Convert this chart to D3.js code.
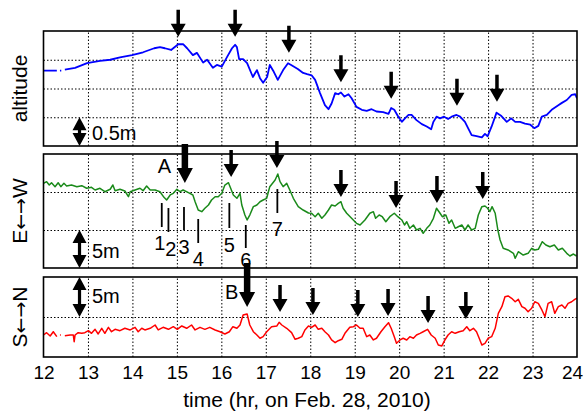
<!DOCTYPE html>
<html>
<head>
<meta charset="UTF-8">
<style>
body { margin: 0; background: white; }
text { font-family: "Liberation Sans", Arial, sans-serif; fill: black; }
.grid line { stroke: black; stroke-width: 1; stroke-dasharray: 1.5,2; }
.grid path { display: none; }
</style>
</head>
<body>
<script src="https://d3js.org/d3.v7.min.js"></script>
<script>

// ---- data (time in hours, values in metres) ----
var xTicks = [12, 13, 14, 15, 16, 17, 18, 19, 20, 21, 22, 23, 24]

var altitude = [
  [12.00,1.31],[12.30,1.31],[12.33,null],[12.37,1.31],[12.40,1.31],[12.44,null],
  [12.48,1.33],[12.71,1.36],[12.98,1.44],[13.27,1.48],[13.50,1.50],[13.72,1.54],
  [13.99,1.58],[14.24,1.63],[14.49,1.70],[14.62,1.72],[14.73,1.70],[14.87,1.67],
  [15.03,1.77],[15.14,1.77],[15.23,1.70],[15.36,1.58],[15.45,1.62],[15.59,1.45],
  [15.68,1.50],[15.81,1.36],[15.90,1.41],[16.01,1.38],[16.13,1.55],[16.24,1.70],
  [16.31,1.76],[16.35,1.72],[16.40,1.51],[16.49,1.51],[16.58,1.44],[16.71,1.20],
  [16.80,1.32],[16.87,1.18],[16.94,1.10],[17.03,1.20],[17.09,1.41],[17.18,1.29],
  [17.27,1.15],[17.39,1.32],[17.50,1.44],[17.57,1.41],[17.72,1.34],[17.84,1.27],
  [17.93,1.25],[18.03,1.23],[18.11,1.15],[18.22,0.92],[18.33,0.71],[18.41,0.64],
  [18.48,0.74],[18.56,0.92],[18.63,0.90],[18.69,0.93],[18.77,0.86],[18.86,0.90],
  [18.93,0.83],[19.04,0.68],[19.16,0.63],[19.27,0.61],[19.38,0.64],[19.49,0.60],
  [19.64,0.59],[19.76,0.56],[19.82,0.66],[19.89,0.63],[19.98,0.51],[20.06,0.42],
  [20.13,0.48],[20.21,0.54],[20.28,0.54],[20.39,0.45],[20.51,0.38],[20.62,0.34],
  [20.72,0.29],[20.77,0.42],[20.84,0.51],[20.92,0.48],[21.01,0.51],[21.10,0.47],
  [21.18,0.51],[21.29,0.54],[21.37,0.51],[21.48,0.42],[21.55,0.31],[21.63,0.19],
  [21.74,0.17],[21.86,0.15],[21.93,0.21],[21.99,0.17],[22.08,0.34],[22.19,0.58],
  [22.30,0.52],[22.42,0.42],[22.52,0.48],[22.61,0.42],[22.72,0.42],[22.83,0.39],
  [22.95,0.37],[23.04,0.31],[23.13,0.35],[23.21,0.51],[23.32,0.54],[23.43,0.63],
  [23.58,0.71],[23.66,0.75],[23.77,0.80],[23.88,0.89],[23.96,0.90],[24.00,0.83]
]

var eastWest = [
  [12.00,11.14],[12.07,11.36],[12.13,10.92],[12.18,11.22],[12.26,10.70],[12.33,11.22],
  [12.39,10.70],[12.46,11.14],[12.52,10.79],[12.63,10.92],[12.75,10.70],[12.86,10.83],
  [12.97,10.49],[13.08,10.62],[13.16,10.26],[13.27,10.49],[13.38,10.04],[13.50,10.36],
  [13.56,10.92],[13.61,10.17],[13.72,10.36],[13.83,10.13],[13.91,9.38],[13.95,10.04],
  [14.06,10.26],[14.17,10.49],[14.24,10.17],[14.32,10.79],[14.40,10.26],[14.51,10.26],
  [14.62,10.04],[14.71,9.30],[14.77,8.95],[14.85,9.61],[14.92,9.83],[15.00,10.36],
  [15.07,10.04],[15.14,10.26],[15.26,9.91],[15.36,9.61],[15.41,8.72],[15.48,7.63],
  [15.56,7.41],[15.63,7.86],[15.71,8.29],[15.78,8.95],[15.86,9.38],[15.93,9.38],
  [16.01,9.83],[16.08,10.92],[16.16,11.22],[16.21,10.49],[16.27,9.61],[16.35,9.17],
  [16.42,9.83],[16.46,8.29],[16.53,6.97],[16.58,6.32],[16.64,6.97],[16.72,8.07],
  [16.80,8.29],[16.87,8.72],[16.94,8.95],[17.02,9.17],[17.09,10.70],[17.21,11.58],
  [17.27,12.37],[17.32,11.36],[17.39,10.70],[17.47,11.14],[17.54,10.26],[17.62,9.17],
  [17.73,8.07],[17.84,7.63],[17.96,7.24],[18.03,7.20],[18.11,6.75],[18.18,7.20],
  [18.26,6.54],[18.33,6.97],[18.41,7.63],[18.48,8.29],[18.56,8.16],[18.63,8.51],
  [18.69,8.72],[18.74,7.86],[18.82,7.20],[18.93,6.54],[19.04,5.88],[19.12,5.66],
  [19.23,6.32],[19.34,7.20],[19.42,7.41],[19.47,6.54],[19.55,6.97],[19.62,6.75],
  [19.70,6.09],[19.79,6.75],[19.89,7.20],[19.97,6.75],[20.06,6.32],[20.12,5.66],
  [20.17,6.09],[20.24,5.22],[20.32,5.66],[20.39,5.00],[20.47,5.22],[20.54,4.57],
  [20.62,5.22],[20.69,5.66],[20.77,6.54],[20.84,7.86],[20.92,7.20],[20.97,6.75],
  [21.05,6.97],[21.12,5.88],[21.18,6.32],[21.26,5.22],[21.33,5.43],[21.41,5.66],
  [21.48,5.00],[21.55,5.66],[21.63,5.00],[21.71,5.22],[21.78,6.97],[21.86,8.07],
  [21.93,8.16],[21.99,7.86],[22.04,7.41],[22.09,8.07],[22.16,7.20],[22.22,5.00],
  [22.27,3.68],[22.34,2.59],[22.45,2.37],[22.57,1.93],[22.61,1.28],[22.68,2.14],
  [22.79,1.71],[22.90,1.93],[22.98,2.59],[23.05,2.37],[23.13,2.46],[23.22,3.46],
  [23.30,3.03],[23.39,2.80],[23.49,3.03],[23.58,2.37],[23.67,2.59],[23.77,1.93],
  [23.84,1.58],[23.92,1.84],[23.99,1.58]
]

var southNorth = [
  [12.00,2.75],[12.07,3.04],[12.15,2.63],[12.22,3.16],[12.30,2.54],[12.33,null],
  [12.37,2.75],[12.39,2.75],[12.43,null],
  [12.48,2.66],[12.60,2.75],[12.67,2.75],[12.69,1.91],[12.71,2.75],[12.78,3.04],
  [12.86,2.96],[12.93,3.04],[13.01,3.29],[13.08,2.96],[13.16,3.46],[13.23,2.88],
  [13.31,3.59],[13.38,2.96],[13.46,3.71],[13.53,3.16],[13.61,3.46],[13.72,3.29],
  [13.83,3.59],[13.95,3.38],[14.06,3.71],[14.13,3.16],[14.21,3.59],[14.28,3.38],
  [14.40,3.59],[14.51,4.00],[14.58,3.38],[14.69,3.71],[14.81,3.46],[14.92,3.79],
  [15.01,3.46],[15.11,3.88],[15.22,3.59],[15.33,4.00],[15.41,3.38],[15.52,3.71],
  [15.63,3.46],[15.74,3.71],[15.86,3.38],[15.97,3.16],[16.08,2.88],[16.18,3.16],
  [16.26,3.79],[16.35,3.59],[16.42,4.00],[16.49,5.25],[16.58,5.38],[16.64,4.00],
  [16.72,3.16],[16.80,2.75],[16.87,2.34],[16.94,2.54],[17.02,3.16],[17.13,3.79],
  [17.25,3.88],[17.30,4.34],[17.36,4.00],[17.47,3.59],[17.58,3.04],[17.66,2.21],
  [17.73,2.34],[17.81,2.54],[17.88,3.38],[17.96,3.88],[18.03,3.71],[18.11,4.00],
  [18.18,3.46],[18.26,3.59],[18.33,3.16],[18.41,2.75],[18.48,2.13],[18.56,1.79],
  [18.63,2.04],[18.71,2.21],[18.78,2.96],[18.89,3.71],[18.97,3.79],[19.04,4.00],
  [19.12,3.59],[19.19,3.59],[19.27,2.54],[19.34,2.75],[19.42,2.13],[19.49,2.34],
  [19.59,3.16],[19.68,3.79],[19.76,4.29],[19.82,3.59],[19.89,2.54],[19.94,1.71],
  [20.02,2.13],[20.09,2.34],[20.17,2.13],[20.24,2.54],[20.32,2.34],[20.39,2.75],
  [20.47,2.96],[20.54,3.16],[20.64,3.46],[20.72,2.75],[20.81,2.34],[20.88,1.50],
  [20.96,1.38],[21.03,2.13],[21.10,2.75],[21.18,3.16],[21.26,2.96],[21.35,3.16],
  [21.44,3.29],[21.52,3.79],[21.59,3.29],[21.67,3.59],[21.74,3.16],[21.80,2.34],
  [21.86,1.50],[21.93,1.71],[22.00,2.34],[22.08,2.54],[22.16,3.59],[22.23,5.46],
  [22.31,6.29],[22.38,7.54],[22.45,7.63],[22.53,7.34],[22.61,6.91],[22.68,7.21],
  [22.76,6.29],[22.83,6.09],[22.90,5.66],[22.98,6.09],[23.05,6.91],[23.13,6.71],
  [23.21,5.88],[23.28,5.04],[23.35,6.71],[23.43,6.91],[23.50,5.46],[23.58,6.29],
  [23.66,6.50],[23.73,6.09],[23.80,6.71],[23.88,6.91],[23.95,7.21],[24.00,7.34]
]

// arrows: [time, value at the arrow tip, thick?]
var altArrows = [[15.03,1.90,0],[16.31,1.90,0],[17.52,1.62,0],[18.69,1.11,0],
                 [19.82,0.82,0],[21.30,0.70,0],[22.20,0.77,0]]
var ewArrows = [[15.18,11.18,1],[16.22,11.97,0],[17.25,13.16,0],[18.69,9.34,0],
                [19.93,7.89,0],[20.85,8.55,0],[21.88,9.08,0]]
var snArrows = [[16.58,6.25,1],[17.32,5.63,0],[18.06,5.25,0],[19.07,5.00,0],
                [19.75,5.13,0],[20.65,4.25,0],[21.50,4.75,0]]

// numbered event marks in the E<->W panel
var eventLabels = ['1', '2', '3', '4', '5', '6', '7']
var eventTimes = [14.66, 14.81, 15.16, 15.48, 16.18, 16.55, 17.26]
var eventTops = [8.55, 7.89, 8.03, 6.45, 8.55, 5.66, 10.39]
var eventBottoms = [5.39, 4.74, 5.00, 3.29, 5.26, 2.63, 7.24]

// ---- layout ----
var svgWidth = 585
    svgHeight = 415
    left = 43.5
    right = 577

var svg = d3.select("body").append("svg")
          .attr("width", svgWidth)
          .attr("height", svgHeight)

var xScale = d3.scaleLinear().domain([12, 24]).range([left, right])

var panels = [
  {name: 'alt', top: 31, bottom: 146, domain: [0, 2], grid: [0.5, 1, 1.5],
   data: altitude, color: '#0000ff', width: 1.8, label: ['altitude'],
   arrows: altArrows, bar: [0, 0.5], barText: '0.5m', barTextY: 140},
  {name: 'ew', top: 154, bottom: 268, domain: [0, 15], grid: [5, 10],
   data: eastWest, color: '#1a8a1a', width: 1.5, label: ['E', '\u2190\u2192', 'W'],
   arrows: ewArrows, bar: [0, 5], barText: '5m', barTextY: 258},
  {name: 'sn', top: 277, bottom: 357, domain: [0, 10], grid: [5],
   data: southNorth, color: '#ff0000', width: 1.5, label: ['S', '\u2190\u2192', 'N'],
   arrows: snArrows, bar: [5, 10], barText: '5m', barTextY: 303}
]

// arrow drawn with its tip at (x, y)
function arrowPath(x, y, thick, len) {
  var w = thick ? 16 : 15, h = thick ? 16 : 14, s = thick ? 6.5 : 3.5
  return 'M' + (x - s/2) + ',' + (y - len) + 'H' + (x + s/2) + 'V' + (y - h + 1)
       + 'H' + (x + w/2) + 'L' + x + ',' + y + 'L' + (x - w/2) + ',' + (y - h + 1)
       + 'H' + (x - s/2) + 'Z'
}

function doubleArrow(x, y0, y1) {
  var w = 14, h = 13, s = 3.2
  return 'M' + x + ',' + y0 + 'L' + (x + w/2) + ',' + (y0 + h) + 'H' + (x + s/2)
       + 'V' + (y1 - h) + 'H' + (x + w/2) + 'L' + x + ',' + y1 + 'L' + (x - w/2) + ',' + (y1 - h)
       + 'H' + (x - s/2) + 'V' + (y0 + h) + 'H' + (x - w/2) + 'Z'
}

panels.forEach(function(p) {
  var yScale = d3.scaleLinear().domain(p.domain).range([p.bottom, p.top])
  p.y = yScale
  var g = svg.append('g')

  // dotted grid, via axes
  g.append('g').attr('class', 'grid')
    .attr('transform', 'translate(0,' + p.bottom + ')')
    .call(d3.axisBottom(xScale).tickValues(xTicks.slice(1, -1))
           .tickSize(-(p.bottom - p.top)).tickFormat(''))
  g.append('g').attr('class', 'grid')
    .attr('transform', 'translate(' + left + ',0)')
    .call(d3.axisLeft(yScale).tickValues(p.grid)
           .tickSize(-(right - left)).tickFormat(''))

  svg.append('clipPath').attr('id', 'clip-' + p.name)
    .append('rect').attr('x', left).attr('y', p.top)
    .attr('width', right - left).attr('height', p.bottom - p.top)

  var line = d3.line()
    .defined(d => d[1] != null)
    .x(d => xScale(d[0]))
    .y(d => yScale(d[1]))

  g.append('path')
    .datum(p.data)
    .attr('clip-path', 'url(#clip-' + p.name + ')')
    .attr('d', line)
    .attr('fill', 'none')
    .attr('stroke', p.color)
    .attr('stroke-width', p.width)
    .attr('stroke-linejoin', 'round')

  // frame
  g.append('rect')
    .attr('x', left).attr('y', p.top)
    .attr('width', right - left).attr('height', p.bottom - p.top)
    .attr('fill', 'none').attr('stroke', 'black').attr('stroke-width', 1.6)

  // scale bar
  g.append('path')
    .attr('d', doubleArrow(xScale(12.81), yScale(p.bar[1]), yScale(p.bar[0])))
    .attr('fill', 'black')
  g.append('text')
    .attr('x', 92).attr('y', p.barTextY)
    .attr('font-size', 20)
    .text(p.barText)

  // y label, arrows set in DejaVu (bigger glyphs)
  var lab = g.append('text')
    .attr('transform', 'translate(27,' + ((p.top + p.bottom) / 2) + ') rotate(-90)')
    .attr('text-anchor', 'middle')
    .attr('font-size', 21)
  p.label.forEach(function(s, i) {
    var ts = lab.append('tspan').text(s)
    if (i == 1) ts.attr('font-family', '"DejaVu Sans", sans-serif').attr('font-size', 19)
  })

  // arrows
  g.selectAll('.arrow').data(p.arrows).enter()
    .append('path')
    .attr('class', 'arrow')
    .attr('d', d => arrowPath(xScale(d[0]), yScale(d[1]), d[2], d[2] ? (p.name == 'ew' ? 39 : 44) : 27))
    .attr('fill', 'black')
})

// letter labels of the thick arrows
var ew = panels[1], sn = panels[2]
svg.append('text').attr('x', xScale(14.72)).attr('y', ew.y(12.54))
  .attr('text-anchor', 'middle').attr('font-size', 20).text('A')
svg.append('text').attr('x', xScale(16.23)).attr('y', sn.y(7.25))
  .attr('text-anchor', 'middle').attr('font-size', 20).text('B')

// numbered event marks
var labelShift = [-2, 2.5, 0, 0, 0, 0, 0]
    labelDrop = [23, 24.5, 24, 23, 23.5, 19, 23]
eventTimes.forEach(function(t, i) {
  svg.append('line')
    .attr('x1', xScale(t)).attr('x2', xScale(t))
    .attr('y1', ew.y(eventTops[i])).attr('y2', ew.y(eventBottoms[i]))
    .attr('stroke', 'black').attr('stroke-width', 1.8)
  svg.append('text')
    .attr('x', xScale(t) + labelShift[i])
    .attr('y', ew.y(eventBottoms[i]) + labelDrop[i])
    .attr('text-anchor', 'middle').attr('font-size', 20)
    .text(eventLabels[i])
})

// time axis
var xAxis = svg.append('g')
  .attr('transform', 'translate(0,' + sn.bottom + ')')
  .call(d3.axisBottom(xScale).tickValues(xTicks).tickSize(0).tickPadding(9)
         .tickFormat(d3.format('d')))
xAxis.select('.domain').remove()
xAxis.selectAll('text').attr('font-size', 19)
  .attr('font-family', '"Liberation Sans", Arial, sans-serif')
  .attr('dx', d => d == 24 ? -5 : 0)

svg.append('text')
  .attr('x', 307).attr('y', 407)
  .attr('text-anchor', 'middle').attr('font-size', 21)
  .text('time (hr, on Feb. 28, 2010)')

</script>
</body>
</html>
